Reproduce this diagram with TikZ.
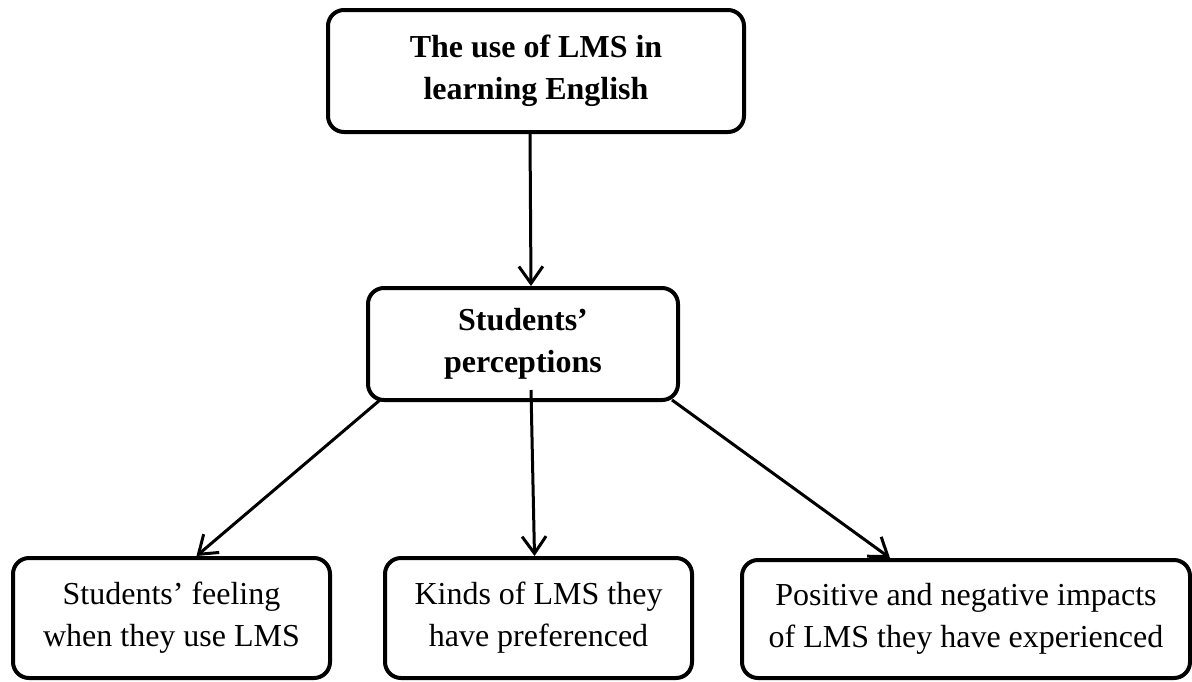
\documentclass[tikz,border=0pt]{standalone}
\usepackage{fontspec}
\setmainfont{Liberation Serif}
\usetikzlibrary{arrows.meta}
\begin{document}
\begin{tikzpicture}[x=1pt,y=-1pt,
  box/.style={draw,line width=4pt,rounded corners=16pt,align=center,inner sep=0pt,
    font=\fontsize{32}{42}\selectfont},
  headbox/.style={box,font=\fontsize{32}{42}\selectfont\bfseries},
  arr/.style={line width=3pt,-{Straight Barb[length=17pt,width=24pt,line width=3pt]}}]
\useasboundingbox (0,0) rectangle (1192,681);
\node[headbox,minimum width=416pt,minimum height=122pt] (top) at (536,71) {The use of LMS in\\learning English};
\node[headbox,minimum width=310pt,minimum height=112pt] (mid) at (523,344) {Students’\\perceptions};
\node[box,minimum width=317pt,minimum height=120pt] (left) at (171.5,618) {Students’ feeling\\when they use LMS};
\node[box,minimum width=307pt,minimum height=120pt] (center) at (538.5,618) {Kinds of LMS they\\have preferenced};
\node[box,minimum width=448pt,minimum height=118pt] (right) at (966,619) {Positive and negative impacts\\of LMS they have experienced};
\draw[arr] ([xshift=-6pt]top.south) -- ([xshift=8pt]mid.north);
\draw[arr] ([xshift=14pt,yshift=2pt]mid.south west) -- ([xshift=25pt]left.north);
\draw[arr] ([xshift=8pt,yshift=12pt]mid.south) -- ([xshift=-4pt]center.north);
\draw[arr] ([xshift=-8pt,yshift=2pt]mid.south east) -- ([xshift=-76pt]right.north);
\end{tikzpicture}
\end{document}
